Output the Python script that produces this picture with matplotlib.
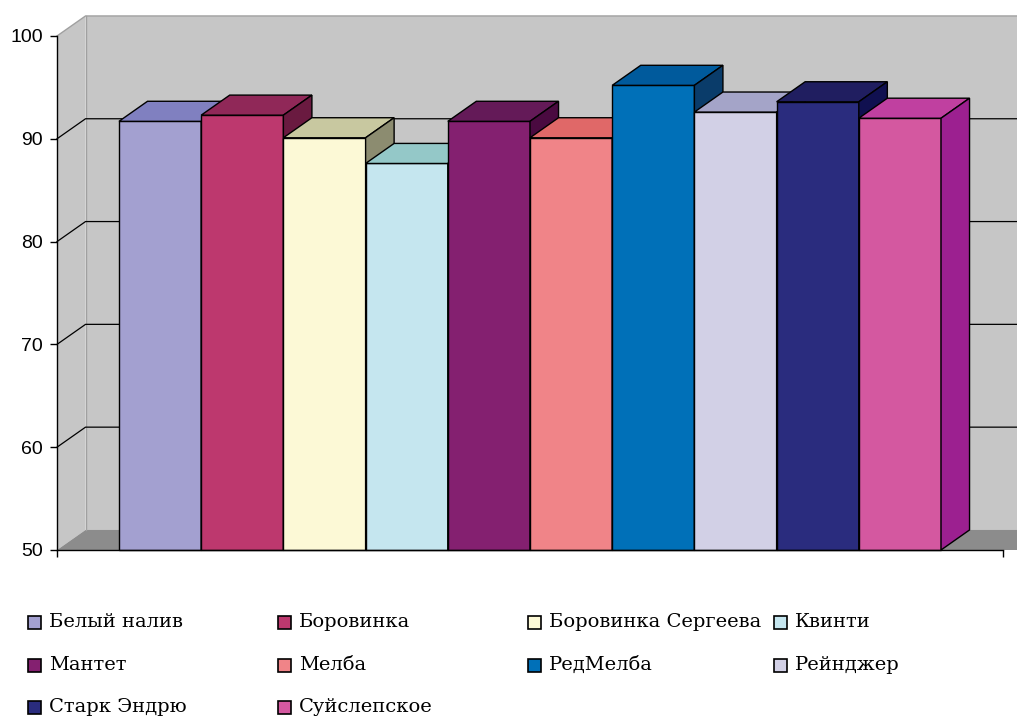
import matplotlib.pyplot as plt
from matplotlib.patches import Polygon, Rectangle

# apple varieties and their scores
varieties = ['Белый налив', 'Боровинка', 'Боровинка Сергеева', 'Квинти',
             'Мантет', 'Мелба', 'РедМелба', 'Рейнджер',
             'Старк Эндрю', 'Суйслепское']
scores = [91.7, 92.3, 90.1, 87.6, 91.7, 90.1, 95.2, 92.6, 93.6, 92.0]

front_colors = ['#a3a0d0', '#bd386e', '#fcf9d6', '#c5e6ef', '#842070',
                '#f08488', '#0070b8', '#d2d0e6', '#2a2c7e', '#d458a0']
top_colors = ['#8080c0', '#902858', '#c8c8a0', '#94c8c8', '#641a58',
              '#e06868', '#005a9c', '#a4a4c8', '#201e60', '#c040a0']
side_colors = ['#60609a', '#6a1a40', '#8c8c70', '#70a0a0', '#4a0a40',
               '#b04850', '#0a3c6a', '#8080a8', '#101050', '#9c2090']

y_ticks = [50, 60, 70, 80, 90, 100]

W, H = 1017, 718
base, top = 50, 100
x_lo, x_hi = -1.254, 10.254
dx, dy = 0.347, 1.95          # depth offset of the 3d box
wall = '#c6c6c6'
floor = '#8c8c8c'
border = '#a0a0a0'

fig = plt.figure(figsize=(W / 100, H / 100), dpi=100)
ax = fig.add_axes([57 / W, 168 / H, 946 / W, 514 / H])
ax.set_facecolor('none')
ax.set_xlim(x_lo, x_hi)
ax.set_ylim(base, top)

# back wall, left wall and floor
ax.add_patch(Rectangle((x_lo + dx, base + dy), x_hi - x_lo + 1, top - base,
                       fc=wall, ec='none', clip_on=False, zorder=0))
ax.add_patch(Polygon([(x_lo, base), (x_lo + dx, base + dy), (x_lo + dx, top + dy), (x_lo, top)],
                     fc=wall, ec='none', clip_on=False, zorder=0))
ax.add_patch(Polygon([(x_lo, base), (x_hi + 1, base), (x_hi + 1 + dx, base + dy), (x_lo + dx, base + dy)],
                     fc=floor, ec='none', clip_on=False, zorder=0))

# wall borders
ax.plot([x_lo, x_lo + dx, x_hi + 1], [top, top + dy, top + dy], color=border, lw=1, clip_on=False, zorder=1)
ax.plot([x_lo + dx, x_lo + dx], [base + dy, top + dy], color=border, lw=1, clip_on=False, zorder=1)

# gridlines across left and back walls
for v in y_ticks[1:-1]:
    ax.plot([x_lo, x_lo + dx, x_hi + 1], [v, v + dy, v + dy], color='black', lw=0.9,
            clip_on=False, zorder=1)

# 3d columns, drawn left to right so each one hides the previous side
for i, (v, fc, tc, sc) in enumerate(zip(scores, front_colors, top_colors, side_colors)):
    left, right = i - 0.5, i + 0.5
    ax.add_patch(Rectangle((left, base), 1, v - base, fc=fc, ec='black', lw=1.0,
                           clip_on=False, zorder=3))
    ax.add_patch(Polygon([(left, v), (right, v), (right + dx, v + dy), (left + dx, v + dy)],
                         fc=tc, ec='black', lw=1.0, clip_on=False, zorder=3))
    ax.add_patch(Polygon([(right, base), (right + dx, base + dy), (right + dx, v + dy), (right, v)],
                         fc=sc, ec='black', lw=1.0, clip_on=False, zorder=3))

ax.spines['top'].set_visible(False)
ax.spines['right'].set_visible(False)
for s in ('left', 'bottom'):
    ax.spines[s].set_linewidth(1.0)
    ax.spines[s].set_color('black')
    ax.spines[s].set_zorder(4)

ax.set_yticks(y_ticks)
ax.set_yticklabels([str(t) for t in y_ticks], fontfamily='Liberation Sans', fontsize=14)
ax.set_xticks([x_lo, x_hi])
ax.set_xticklabels(['', ''])
ax.tick_params(axis='both', direction='out', length=5, width=1.0, color='black', pad=5)

# legend laid out in rows of four
col_x = [28, 278, 528, 774]
row_y = [622, 665, 707]
for k, (name, fc) in enumerate(zip(varieties, front_colors)):
    x, y = col_x[k % 4], row_y[k // 4]
    fig.add_artist(Rectangle((x / W, 1 - (y + 6.5) / H), 13 / W, 13 / H,
                             transform=fig.transFigure, fc=fc, ec='black', lw=1.2))
    fig.text((x + 21) / W, 1 - y / H, name, ha='left', va='center',
             fontsize=14, fontfamily='DejaVu Serif')

fig.savefig('out.png', dpi=100)
